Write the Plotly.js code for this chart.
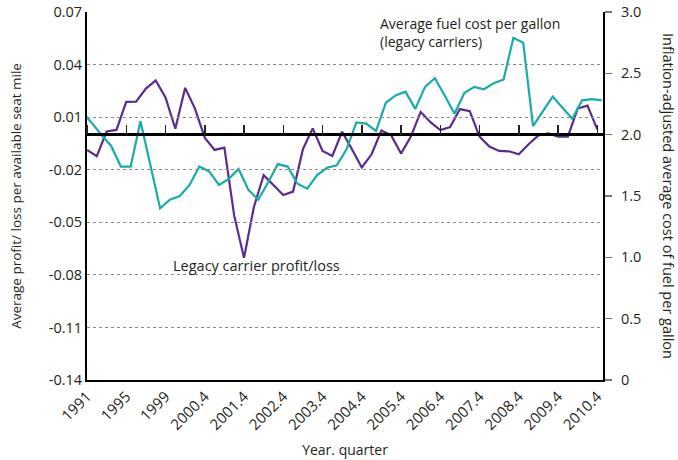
<!DOCTYPE html>
<html>
<head>
<meta charset="utf-8">
<script src="https://cdn.plot.ly/plotly-3.0.1.min.js"></script>
<style>
  html, body { margin: 0; padding: 0; background: #fff; }
  #chart { width: 678px; height: 460px; }
</style>
</head>
<body>
<div id="chart"></div>
<script>
// Periods: annual 1991-1999, then quarterly 2000.1-2010.4
const periods = ["1991","1992","1993","1994","1995","1996","1997","1998","1999",
  "2000.1","2000.2","2000.3","2000.4","2001.1","2001.2","2001.3","2001.4",
  "2002.1","2002.2","2002.3","2002.4","2003.1","2003.2","2003.3","2003.4",
  "2004.1","2004.2","2004.3","2004.4","2005.1","2005.2","2005.3","2005.4",
  "2006.1","2006.2","2006.3","2006.4","2007.1","2007.2","2007.3","2007.4",
  "2008.1","2008.2","2008.3","2008.4","2009.1","2009.2","2009.3","2009.4",
  "2010.1","2010.2","2010.3","2010.4"];

// Fuel series is drawn offset by about half a period, with one leading value
const fuelPeriods = ["1990"].concat(periods);

const tickLabels = ["1991","1995","1999","2000.4","2001.4","2002.4","2003.4",
  "2004.4","2005.4","2006.4","2007.4","2008.4","2009.4","2010.4"];

// Legacy carrier profit/loss per available seat mile
const profitLoss = [-0.0087,-0.0123,0.0018,0.0027,0.0187,0.0189,0.0263,0.0310,0.0213,
  0.0034,0.0267,0.0149,-0.0017,-0.0087,-0.0074,-0.0462,-0.0703,-0.0414,-0.0231,
  -0.0288,-0.0344,-0.0325,-0.0083,0.0036,-0.0093,-0.0121,0.0017,-0.0083,-0.0187,
  -0.0112,0.0024,-0.0004,-0.0108,-0.0011,0.0130,0.0071,0.0026,0.0043,0.0146,
  0.0134,-0.0011,-0.0068,-0.0093,-0.0095,-0.0112,-0.0055,-0.0004,0.0007,-0.0011,
  -0.0011,0.0149,0.0166,0.0030];

// Inflation-adjusted average fuel cost per gallon (legacy carriers)
const fuelCost = [2.19,2.10,2.00,1.91,1.74,1.74,2.11,1.75,1.40,1.47,1.50,1.59,1.74,
  1.70,1.59,1.64,1.72,1.55,1.47,1.61,1.76,1.74,1.60,1.56,1.67,1.73,1.75,1.88,
  2.10,2.09,2.03,2.26,2.32,2.35,2.21,2.39,2.46,2.32,2.17,2.34,2.39,2.37,2.42,
  2.45,2.79,2.75,2.07,2.19,2.31,2.22,2.13,2.28,2.29,2.28];

const leftTicks = [0.07,0.04,0.01,-0.02,-0.05,-0.08,-0.11,-0.14];
const leftTickText = ["0.07","0.04","0.01","-0.02","-0.05","-0.08","-0.11","-0.14"];
const rightTicks = [0,0.5,1,1.5,2,2.5,3];
const rightTickText = ["0","0.5","1.0","1.5","2.0","2.5","3.0"];

const PURPLE = "#5b2c8f";
const TEAL = "#17acaa";
const TEXT = "#231f20";
const FONT = "Open Sans, sans-serif";

const xRange = [0, 52.58];
const tickIdx = tickLabels.map(l => periods.indexOf(l));
const tickCats = tickIdx.map(i => periods[i]);

const traces = [
  {
    x: fuelPeriods, y: fuelCost, xaxis: "x2", yaxis: "y2",
    type: "scatter", mode: "lines",
    line: { color: TEAL, width: 2.2 }, hoverinfo: "skip"
  },
  {
    x: periods, y: profitLoss, xaxis: "x", yaxis: "y",
    type: "scatter", mode: "lines",
    line: { color: PURPLE, width: 2.2 }, hoverinfo: "skip"
  },
  {
    x: periods, y: periods.map(() => null), xaxis: "x3", yaxis: "y",
    type: "scatter", mode: "lines", hoverinfo: "skip", showlegend: false
  }
];

const layout = {
  width: 678, height: 460,
  margin: { l: 86.5, r: 75, t: 12, b: 80 },
  paper_bgcolor: "#fff", plot_bgcolor: "rgba(0,0,0,0)",
  showlegend: false,
  font: { family: FONT, size: 13, color: TEXT },
  xaxis: {
    type: "category", range: xRange,
    tickmode: "array", tickvals: tickCats, ticktext: tickLabels,
    tickangle: -45, ticks: "", showgrid: false, zeroline: false,
    showline: true, linecolor: "#000", linewidth: 2,
    tickfont: { family: FONT, size: 15, color: TEXT },
    title: { text: "Year. quarter", font: { family: FONT, size: 14, color: TEXT }, standoff: 12 }
  },
  xaxis2: {
    type: "category", overlaying: "x", range: [0.55, 53.13],
    visible: false, showgrid: false, zeroline: false
  },
  xaxis3: {
    type: "category", anchor: "free", position: 0.665, side: "top", domain: [0, 1],
    range: xRange, tickmode: "array", tickvals: tickCats,
    ticktext: tickLabels, showticklabels: false,
    ticks: "outside", ticklen: 10, tickwidth: 1.5, tickcolor: "#222",
    showgrid: false, zeroline: false, showline: false
  },
  yaxis: {
    range: [-0.14, 0.07],
    tickmode: "array", tickvals: leftTicks, ticktext: leftTickText,
    ticks: "", showgrid: true, gridcolor: "#8c8c8c", griddash: "dot", gridwidth: 1,
    zeroline: true, zerolinecolor: "#000", zerolinewidth: 2.5,
    showline: true, linecolor: "#000", linewidth: 2,
    tickfont: { family: FONT, size: 14.5, color: TEXT },
    title: { text: "Average profit/ loss per available seat mile",
             font: { family: FONT, size: 13.5, color: TEXT }, standoff: 24 }
  },
  yaxis2: {
    overlaying: "y", side: "right", anchor: "x", range: [0, 3],
    tickmode: "array", tickvals: rightTicks, ticktext: rightTickText,
    ticks: "outside", ticklen: 7, tickcolor: "#777", tickwidth: 1.2,
    ticklabelstandoff: 6,
    showgrid: false, zeroline: false,
    showline: true, linecolor: "#000", linewidth: 2,
    tickfont: { family: FONT, size: 14.5, color: TEXT }
  },
  annotations: [
    {
      text: "Inflation-adjusted average cost of fuel per gallon",
      xref: "paper", yref: "paper", x: 1.128, y: 0.5, textangle: 90,
      showarrow: false, xanchor: "center", yanchor: "middle",
      font: { family: FONT, size: 14.5, color: TEXT }
    },
    {
      text: "Average fuel cost per gallon<br>(legacy carriers)",
      xref: "paper", yref: "paper", x: 0.563, y: 1.0, align: "left",
      xanchor: "left", yanchor: "top", showarrow: false,
      font: { family: FONT, size: 14, color: TEXT }
    },
    {
      text: "Legacy carrier profit/loss",
      xref: "paper", yref: "paper", x: 0.163, y: 0.31, align: "left",
      xanchor: "left", yanchor: "middle", showarrow: false,
      font: { family: FONT, size: 14.5, color: TEXT }
    }
  ]
};

Plotly.newPlot("chart", traces, layout, { staticPlot: true, displayModeBar: false });
</script>
</body>
</html>
